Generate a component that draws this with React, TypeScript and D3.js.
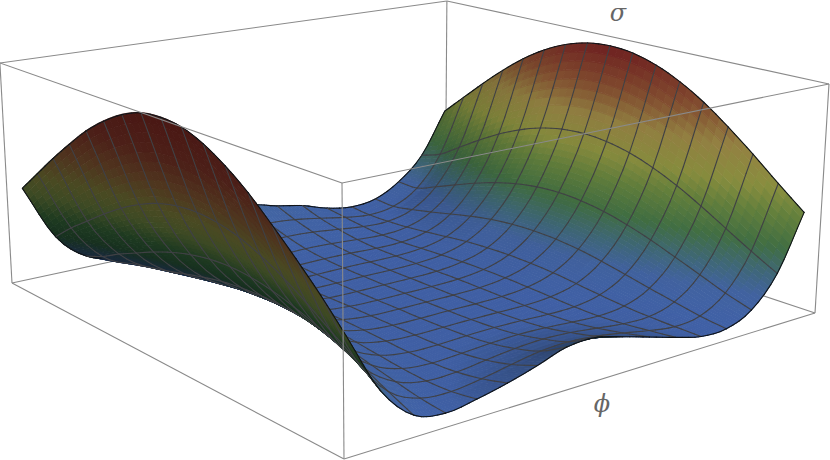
import React from "react";
import * as d3 from "d3";

const WIDTH = 830;
const HEIGHT = 460;

// Mesh coordinates (scaled field values) along each box direction.
const phiValues = [-1, -0.875, -0.75, -0.625, -0.5, -0.375, -0.25, -0.125, 0, 0.125, 0.25, 0.375, 0.5, 0.625, 0.75, 0.875, 1];
const sigmaValues = [-1, -0.875, -0.75, -0.625, -0.5, -0.375, -0.25, -0.125, 0, 0.125, 0.25, 0.375, 0.5, 0.625, 0.75, 0.875, 1];

// Surface heights: one row per phi, one column per sigma.
const row00 = [0.430, 0.539, 0.637, 0.729, 0.815, 0.885, 0.940, 0.975, 0.985, 0.975, 0.940, 0.885, 0.815, 0.729, 0.637, 0.539, 0.440];
const row01 = [0.190, 0.266, 0.332, 0.398, 0.458, 0.508, 0.546, 0.569, 0.577, 0.569, 0.546, 0.508, 0.458, 0.398, 0.332, 0.266, 0.190];
const row02 = [0.060, 0.105, 0.153, 0.195, 0.236, 0.271, 0.298, 0.315, 0.321, 0.315, 0.298, 0.271, 0.236, 0.195, 0.153, 0.105, 0.070];
const row03 = [0.030, 0.042, 0.062, 0.084, 0.108, 0.131, 0.150, 0.161, 0.165, 0.161, 0.150, 0.131, 0.108, 0.084, 0.062, 0.042, 0.035];
const row04 = [0.048, 0.032, 0.029, 0.035, 0.046, 0.058, 0.070, 0.076, 0.079, 0.076, 0.070, 0.058, 0.046, 0.035, 0.029, 0.032, 0.040];
const row05 = [0.075, 0.047, 0.030, 0.023, 0.024, 0.029, 0.034, 0.038, 0.039, 0.038, 0.034, 0.029, 0.024, 0.023, 0.030, 0.045, 0.065];
const row06 = [0.110, 0.070, 0.044, 0.029, 0.022, 0.021, 0.022, 0.023, 0.024, 0.023, 0.022, 0.021, 0.022, 0.029, 0.044, 0.068, 0.100];
const row07 = [0.150, 0.090, 0.058, 0.037, 0.027, 0.022, 0.020, 0.020, 0.020, 0.020, 0.020, 0.022, 0.027, 0.037, 0.058, 0.088, 0.135];
const row08 = [0.155, 0.095, 0.064, 0.041, 0.029, 0.023, 0.021, 0.020, 0.020, 0.020, 0.021, 0.023, 0.029, 0.041, 0.064, 0.095, 0.150];
const row09 = [0.125, 0.085, 0.058, 0.037, 0.027, 0.022, 0.020, 0.020, 0.020, 0.020, 0.020, 0.022, 0.027, 0.037, 0.058, 0.085, 0.120];
const row10 = [0.090, 0.065, 0.044, 0.029, 0.022, 0.021, 0.022, 0.023, 0.024, 0.023, 0.022, 0.021, 0.022, 0.029, 0.044, 0.065, 0.095];
const row11 = [0.055, 0.042, 0.030, 0.023, 0.024, 0.029, 0.034, 0.038, 0.039, 0.038, 0.034, 0.029, 0.024, 0.023, 0.030, 0.042, 0.055];
const row12 = [0.025, 0.026, 0.029, 0.035, 0.046, 0.058, 0.070, 0.076, 0.079, 0.076, 0.070, 0.058, 0.046, 0.035, 0.029, 0.028, 0.035];
const row13 = [0.025, 0.040, 0.062, 0.084, 0.108, 0.131, 0.150, 0.161, 0.165, 0.161, 0.150, 0.131, 0.108, 0.084, 0.062, 0.045, 0.050];
const row14 = [0.075, 0.110, 0.153, 0.195, 0.236, 0.271, 0.298, 0.315, 0.321, 0.315, 0.298, 0.271, 0.236, 0.195, 0.153, 0.114, 0.115];
const row15 = [0.205, 0.266, 0.332, 0.398, 0.458, 0.508, 0.546, 0.569, 0.577, 0.569, 0.546, 0.508, 0.458, 0.398, 0.332, 0.266, 0.230];
const row16 = [0.445, 0.539, 0.637, 0.729, 0.812, 0.879, 0.929, 0.960, 0.970, 0.960, 0.929, 0.879, 0.812, 0.729, 0.637, 0.539, 0.440];
const heights = [row00, row01, row02, row03, row04, row05, row06, row07, row08, row09, row10, row11, row12, row13, row14, row15, row16];

// Colour ramps over height, for the upper face and the underside of the sheet.
const rampStops = [0, 0.12, 0.2, 0.3, 0.42, 0.52, 0.66, 0.8, 0.97];
const topColors = ["#3f5fa6", "#3f5f9a", "#3d6474", "#3f6b40", "#5f7b3a", "#84893c", "#8f7d40", "#7f4a2e", "#6e2020"];
const underColors = ["#17233f", "#182a38", "#17301f", "#1e3a20", "#3d4a24", "#4a4a22", "#4f341e", "#4c2018", "#4a1814"];

const topRamp = d3.scaleLinear<string>().domain(rampStops).range(topColors).interpolate(d3.interpolateRgb).clamp(true);
const underRamp = d3.scaleLinear<string>().domain(rampStops).range(underColors).interpolate(d3.interpolateRgb).clamp(true);

// Box position of the mesh inside the frame.
const uScale = d3.scaleLinear().domain([-1, 1]).range([0.02, 0.98]);
const vScale = d3.scaleLinear().domain([-1, 1]).range([0.02, 0.98]);

// Perspective projection of the unit box onto the page.
function depth(u: number, v: number, w: number) {
  return 1 + 0.2222 * u + 0.276 * v - 0.0392 * w;
}
function project(u: number, v: number, w: number): [number, number] {
  const d = depth(u, v, w);
  return [
    (344 + 652.1 * u - 328.7 * v - 15.4 * w) / d,
    (459 - 76.5 * u - 97.9 * v - 283.2 * w) / d,
  ];
}

function catmull(a: number, b: number, c: number, d: number, t: number) {
  return 0.5 * (2 * b + (c - a) * t + (2 * a - 5 * b + 4 * c - d) * t * t + (3 * b - a - 3 * c + d) * t * t * t);
}
const last = phiValues.length - 1;
const at = (i: number, j: number) => {
  const ii = Math.max(0, Math.min(last, i));
  const jj = Math.max(0, Math.min(last, j));
  let out = heights[ii][jj];
  if (i !== ii) out += heights[ii][jj] - heights[i > ii ? ii - 1 : ii + 1][jj];
  if (j !== jj) out += heights[ii][jj] - heights[ii][j > jj ? jj - 1 : jj + 1];
  return out;
};
// Height anywhere on the sheet, from the table above.
function heightAt(fi: number, fj: number) {
  const i = Math.min(last - 1, Math.floor(fi));
  const j = Math.min(last - 1, Math.floor(fj));
  const ti = fi - i;
  const tj = fj - j;
  const cols = [-1, 0, 1, 2].map((o) =>
    catmull(at(i + o, j - 1), at(i + o, j), at(i + o, j + 1), at(i + o, j + 2), tj)
  );
  return catmull(cols[0], cols[1], cols[2], cols[3], ti);
}
const phiAt = d3.scaleLinear().domain(d3.range(phiValues.length)).range(phiValues);
const sigmaAt = d3.scaleLinear().domain(d3.range(sigmaValues.length)).range(sigmaValues);
function point3(fi: number, fj: number): [number, number, number] {
  return [uScale(phiAt(fi)), vScale(sigmaAt(fj)), heightAt(fi, fj)];
}

const SUB_PHI = 10;
const SUB_SIGMA = 3;
const SUB_LINE = 4;
const line = d3.line();

type Item = { key: string; z: number; d: string; fill?: string; stroke: string; width: number };

function buildItems(): Item[] {
  const items: Item[] = [];
  const na = last * SUB_PHI;
  const nb = last * SUB_SIGMA;
  for (let a = 0; a < na; a++) {
    for (let b = 0; b < nb; b++) {
      const c = [
        point3(a / SUB_PHI, b / SUB_SIGMA),
        point3((a + 1) / SUB_PHI, b / SUB_SIGMA),
        point3((a + 1) / SUB_PHI, (b + 1) / SUB_SIGMA),
        point3(a / SUB_PHI, (b + 1) / SUB_SIGMA),
      ];
      const p = c.map((q) => project(q[0], q[1], q[2]));
      const ax = p[2][0] - p[0][0];
      const ay = p[2][1] - p[0][1];
      const bx = p[3][0] - p[1][0];
      const by = p[3][1] - p[1][1];
      const cross = bx * ay - by * ax;
      const mean = (k: number) => d3.mean(c, (q) => q[k]) as number;
      const h = mean(2);
      const du = (c[1][2] + c[2][2] - c[0][2] - c[3][2]) / 2 / (c[1][0] - c[0][0]);
      const dv = (c[3][2] + c[2][2] - c[0][2] - c[1][2]) / 2 / (c[3][1] - c[0][1]);
      const norm = Math.hypot(du * 0.6, dv * 0.6, 1);
      const nv = (-dv * 0.6) / norm;
      const under = cross < 0;
      let col = d3.rgb(under ? underRamp(h) : topRamp(h));
      if (!under) {
        const shade = 1 - 0.6 * Math.max(0, nv - 0.08) + 0.12 * Math.max(0, -nv);
        col = d3.rgb(col.r * shade, col.g * shade, col.b * shade);
      }
      const fill = col.formatHex();
      items.push({
        key: `q${a}-${b}`,
        z: depth(mean(0), mean(1), h),
        d: (line(p) as string) + "Z",
        fill,
        stroke: fill,
        width: 0.9,
      });
    }
  }
  // Mesh segments and border, sorted with the patches so the hump hides them.
  const seg = (key: string, A: [number, number], B: [number, number], border: boolean) => {
    const pa = point3(A[0], A[1]);
    const pb = point3(B[0], B[1]);
    items.push({
      key,
      z: depth((pa[0] + pb[0]) / 2, (pa[1] + pb[1]) / 2, (pa[2] + pb[2]) / 2) - 0.02,
      d: line([project(pa[0], pa[1], pa[2]), project(pb[0], pb[1], pb[2])]) as string,
      stroke: border ? "#101418" : "#404145",
      width: 1.1,
    });
  };
  const ns = last * SUB_LINE;
  for (let i = 0; i <= last; i++) {
    const border = i === 0 || i === last;
    for (let s = 0; s < ns; s++) {
      seg(`a${i}-${s}`, [i, s / SUB_LINE], [i, (s + 1) / SUB_LINE], border);
      seg(`b${i}-${s}`, [s / SUB_LINE, i], [(s + 1) / SUB_LINE, i], border);
    }
  }
  return items.sort((x, y) => y.z - x.z);
}

const corners = {
  f0: [0, 0, 0], r0: [1, 0, 0], l0: [0, 1, 0], b0: [1, 1, 0],
  f1: [0, 0, 1], r1: [1, 0, 1], l1: [0, 1, 1], b1: [1, 1, 1],
} as Record<string, [number, number, number]>;
const backEdges = [["l0", "b0"], ["r0", "b0"], ["b0", "b1"], ["l1", "b1"], ["b1", "r1"]];
const frontEdges = [["l0", "l1"], ["r0", "r1"], ["f0", "f1"], ["f0", "l0"], ["f0", "r0"], ["f1", "l1"], ["f1", "r1"]];

function Edge({ e }: { e: string[] }) {
  const a = corners[e[0]];
  const b = corners[e[1]];
  return (
    <path
      d={line([project(a[0], a[1], a[2]), project(b[0], b[1], b[2])]) as string}
      stroke="#8a8a8a"
      strokeWidth={1.1}
      fill="none"
    />
  );
}

export default function App() {
  const items = React.useMemo(buildItems, []);
  return (
    <svg
      width={WIDTH}
      height={HEIGHT}
      viewBox={`0 0 ${WIDTH} ${HEIGHT}`}
      style={{ position: "absolute", left: 0, top: 0, background: "#fff" }}
    >
      {backEdges.map((e) => <Edge key={e.join()} e={e} />)}
      {items.map((it) => (
        <path
          key={it.key}
          d={it.d}
          fill={it.fill ?? "none"}
          stroke={it.stroke}
          strokeWidth={it.width}
          strokeLinecap="round"
        />
      ))}
      {frontEdges.map((e) => <Edge key={e.join()} e={e} />)}
      <text x={618} y={21} fontFamily="'DejaVu Serif', serif" fontStyle="italic" fontSize={24} fill="#666" textAnchor="middle">σ</text>
      <text x={602} y={412} fontFamily="'DejaVu Serif', serif" fontStyle="italic" fontSize={24} fill="#666" textAnchor="middle">ϕ</text>
    </svg>
  );
}
